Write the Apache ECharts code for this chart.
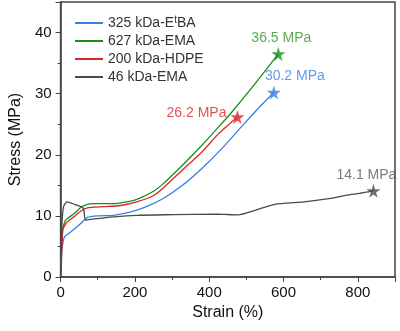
<!DOCTYPE html>
<html>
<head>
<meta charset="utf-8">
<script src="https://cdn.jsdelivr.net/npm/echarts@6/dist/echarts.min.js"></script>
<style>html,body{margin:0;padding:0;background:#fff}#c{width:400px;height:331px}</style>
</head>
<body>
<div id="c"></div>
<script>
const seriesNames = ['325 kDa-EtBA', '627 kDa-EMA', '200 kDa-HDPE', '46 kDa-EMA'];
const colors = ['#3a7fe4', '#1c8c1c', '#d8262b', '#4a4a4a'];
const labelColors = ['#3a7fe4', '#2a962a', '#d8262b', '#5a5a5a'];

const strainBlue = [0.5, 2, 6, 11, 28, 55, 72, 99, 143, 187, 231, 275, 328, 381, 434, 487, 540, 574];
const stressBlue = [1.5, 3.3, 5.5, 6.6, 7.4, 8.8, 9.75, 10.0, 10.1, 10.6, 11.5, 12.8, 15.0, 17.8, 21.0, 24.6, 28.1, 30.2];

const strainGreen = [0.5, 2, 5, 11, 19, 37, 55, 72, 90, 143, 170, 205, 249, 275, 328, 381, 426, 461, 523, 586];
const stressGreen = [1, 4, 7.5, 9.0, 9.6, 10.4, 11.4, 11.9, 12.0, 12.0, 12.2, 12.7, 14.0, 15.2, 18.3, 21.6, 24.6, 27.0, 31.6, 36.5];

const strainRed = [0.5, 2, 6, 15, 37, 55, 72, 117, 161, 205, 249, 275, 328, 381, 426, 476];
const stressRed = [0.5, 1.7, 7.7, 8.8, 9.9, 10.8, 11.3, 11.5, 11.7, 12.3, 13.3, 14.5, 17.5, 20.5, 23.5, 26.2];

const strainGray = [0, 2, 4, 8, 17, 37, 59, 63, 67, 90, 143, 205, 302, 420, 478, 523, 576, 655, 726, 770, 805, 842];
const stressGray = [0, 5, 9, 11.5, 12.3, 11.9, 11.4, 10.8, 9.3, 9.5, 9.85, 10.1, 10.2, 10.3, 10.15, 10.9, 11.9, 12.3, 12.85, 13.4, 13.7, 14.1];

const breakLabels = ['30.2 MPa', '36.5 MPa', '26.2 MPa', '14.1 MPa'];

const strains = [strainBlue, strainGreen, strainRed, strainGray];
const stresses = [stressBlue, stressGreen, stressRed, stressGray];

const labelPos = [
  {position: 'top', distance: 2, offset: [21, 0]},
  {position: 'top', distance: 2, offset: [3, 0]},
  {position: 'left', distance: 4, offset: [0, -4]},
  {position: 'top', distance: 2, offset: [-7, 0]}
];

const star = 'path://M50,0 L61,35 L98,35 L68,57 L79,91 L50,70 L21,91 L32,57 L2,35 L39,35 Z';
const font = 'Liberation Sans, Arial, sans-serif';

const series = [];
seriesNames.forEach((n, i) => {
  series.push({
    name: n, type: 'line', showSymbol: false, symbol: 'none',
    smooth: 0.2,
    lineStyle: {color: colors[i], width: 1.3}, itemStyle: {color: colors[i]},
    data: strains[i].map((x, k) => [x, stresses[i][k]]),
    z: 2 + i
  });
});
seriesNames.forEach((n, i) => {
  const last = strains[i].length - 1;
  series.push({
    type: 'scatter', symbol: star, symbolSize: 14,
    itemStyle: {color: colors[i]},
    data: [[strains[i][last], stresses[i][last]]],
    label: Object.assign({show: true, formatter: breakLabels[i], color: labelColors[i], fontSize: 14, fontFamily: font}, labelPos[i]),
    z: 10
  });
});

const chart = echarts.init(document.getElementById('c'));
chart.setOption({
  animation: false,
  backgroundColor: '#fff',
  grid: {left: 55, right: 5, top: 2, bottom: 54, show: true, borderColor: '#444', borderWidth: 1.5},
  legend: {
    data: seriesNames.map((n, i) => ({name: n, icon: 'rect', itemStyle: {color: colors[i]}})),
    orient: 'vertical', left: 70, top: 10, itemWidth: 28, itemHeight: 2, itemGap: 4,
    textStyle: {fontSize: 14, fontFamily: font, color: '#333',
      rich: {sup: {fontSize: 10, verticalAlign: 'top', padding: [0, 0, 6, 0], fontFamily: font, color: '#333'}}},
    formatter: function (name) { return name === '325 kDa-EtBA' ? '325 kDa-E{sup|t}BA' : name; }
  },
  xAxis: {
    type: 'value', min: 0, max: 900, interval: 200,
    name: 'Strain (%)', nameLocation: 'middle', nameGap: 25,
    nameTextStyle: {fontSize: 16, fontFamily: font, color: '#111'},
    axisLine: {lineStyle: {color: '#444', width: 1.5}},
    axisTick: {length: 5, lineStyle: {color: '#444'}},
    minorTick: {show: true, splitNumber: 2, length: 3, lineStyle: {color: '#444'}},
    splitLine: {show: false},
    axisLabel: {fontSize: 15, fontFamily: font, color: '#111', margin: 8,
      formatter: v => (v > 800 ? '' : v)}
  },
  yAxis: {
    type: 'value', min: 0, max: 45, interval: 10,
    name: 'Stress (MPa)', nameLocation: 'middle', nameGap: 36, nameRotate: 90,
    nameTextStyle: {fontSize: 16, fontFamily: font, color: '#111'},
    axisLine: {show: true, lineStyle: {color: '#444', width: 1.5}},
    axisTick: {show: true, length: 5, lineStyle: {color: '#444'}},
    minorTick: {show: true, splitNumber: 2, length: 3, lineStyle: {color: '#444'}},
    splitLine: {show: false},
    axisLabel: {fontSize: 15, fontFamily: font, color: '#111', margin: 9,
      formatter: v => (v > 40 ? '' : v)}
  },
  series: series
});
</script>
</body>
</html>
